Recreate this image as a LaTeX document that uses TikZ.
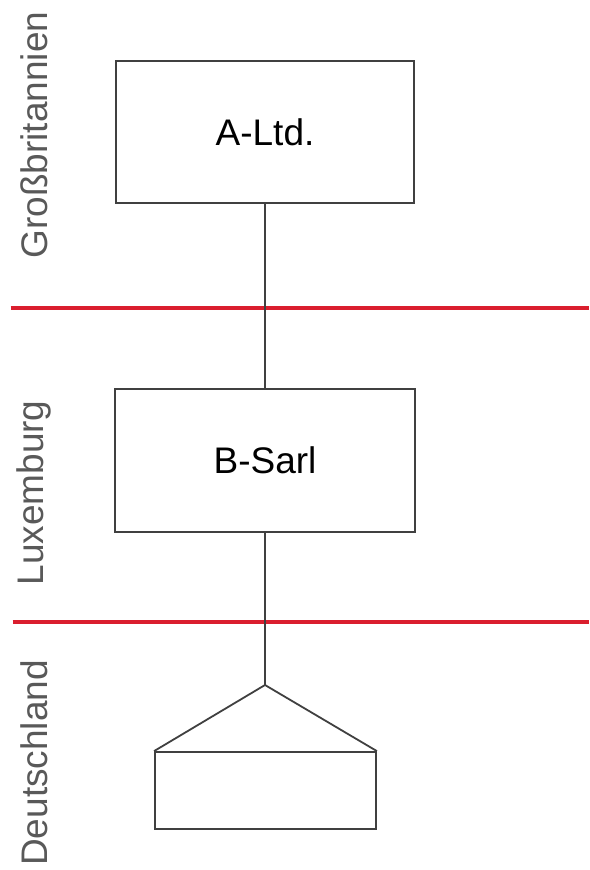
\documentclass[tikz,border=0pt]{standalone}
\usepackage{fontspec}
\setmainfont{Liberation Sans}
\definecolor{linegray}{HTML}{404040}
\definecolor{borderred}{HTML}{DA1E2E}
\definecolor{labelgray}{HTML}{595959}
\begin{document}
\begin{tikzpicture}[x=1pt,y=-1pt,
  bigfont/.style={font=\fontsize{37}{44}\selectfont},
  entity/.style={draw=linegray, line width=1.8pt, inner sep=0pt, bigfont},
  border/.style={draw=borderred, line width=3.6pt},
  country/.style={text=labelgray, bigfont, rotate=90, anchor=base, inner sep=0pt},
  link/.style={draw=linegray, line width=1.8pt}]
  \useasboundingbox (0,0) rectangle (589,870);

  % country borders
  \draw[border] (10.5,308) -- (589,308);
  \draw[border] (12.5,622) -- (589,622);

  % country labels
  \node[country] (gb) at (47,135) {Großbritannien};
  \node[country] (lu) at (43,493) {Luxemburg};
  \node[country] (de) at (47,763) {Deutschland};

  % entities
  \node[entity, minimum width=298pt, minimum height=142pt] (altd) at (265,132) {A-Ltd.};
  \node[entity, minimum width=300pt, minimum height=143pt] (bsarl) at (265,460.5) {B-Sarl};
  \node[entity, minimum width=221pt, minimum height=77pt] (part) at (265.5,790.5) {};
  \coordinate (apex) at (265,685);
  \draw[link, line join=round] (part.north west) -- (apex) -- (part.north east);

  % shareholdings
  \draw[link] (altd.south) -- (bsarl.north);
  \draw[link] (bsarl.south) -- (apex);
\end{tikzpicture}
\end{document}
